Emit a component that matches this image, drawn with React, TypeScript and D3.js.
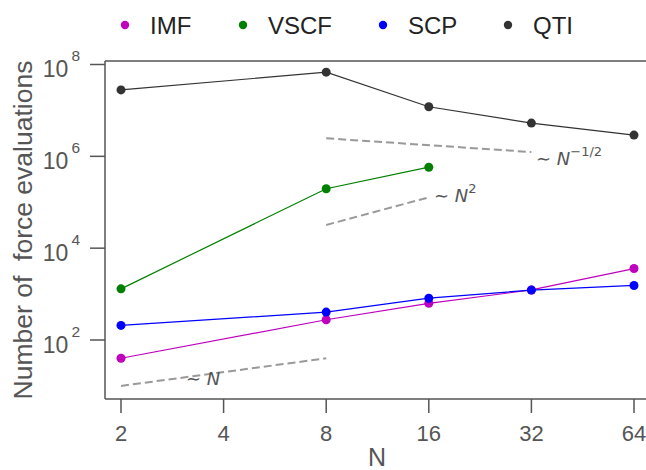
import React, { useRef, useEffect } from "react";
import * as d3 from "d3";

// x values (N) and tick labels
const xTicks = [2, 4, 8, 16, 32, 64];
const yTickExps = [2, 4, 6, 8];

// series
const imfN = [2, 8, 16, 32, 64];
const imfVals = [40, 276, 630, 1230, 3600];
const vscfN = [2, 8, 16];
const vscfVals = [1300, 197000, 580000];
const scpN = [2, 8, 16, 32, 64];
const scpVals = [208, 405, 813, 1220, 1540];
const qtiN = [2, 8, 16, 32, 64];
const qtiVals = [2.8e7, 6.8e7, 1.2e7, 5.3e6, 2.9e6];

// scaling guide lines
const guideLinN = [2, 8];
const guideLinVals = [10, 40];
const guideSqN = [8, 16];
const guideSqVals = [32000, 128000];
const guideInvN = [8, 32];
const guideInvVals = [2.47e6, 1.24e6];

const series = [
  { name: "IMF", color: "#bf00bf", xs: imfN, ys: imfVals },
  { name: "VSCF", color: "#008000", xs: vscfN, ys: vscfVals },
  { name: "SCP", color: "#0000ff", xs: scpN, ys: scpVals },
  { name: "QTI", color: "#333333", xs: qtiN, ys: qtiVals },
];

export default function App() {
  const svgRef = useRef<SVGSVGElement>(null);
  const width = 646;
  const height = 470;
  const font = "'Liberation Sans', Arial, sans-serif";
  const textColor = "#555555";

  useEffect(() => {
    const svg = d3.select(svgRef.current);
    svg.selectAll("*").remove();

    const left = 105, top = 61, bottom = 399, right = 660;

    const x = d3.scaleLog().base(2).domain([2, 64]).range([121, 634]);
    const y = d3.scaleLog().domain([1e2, 1e8]).range([340, 64.5]);

    // spines
    svg.append("line").attr("x1", left).attr("x2", left).attr("y1", top).attr("y2", bottom)
      .attr("stroke", "#555").attr("stroke-width", 1.5);
    svg.append("line").attr("x1", left).attr("x2", right).attr("y1", bottom).attr("y2", bottom)
      .attr("stroke", "#555").attr("stroke-width", 1.5);
    svg.append("line").attr("x1", left).attr("x2", right).attr("y1", top).attr("y2", top)
      .attr("stroke", "#555").attr("stroke-width", 1.5);

    // x ticks
    const gx = svg.append("g");
    xTicks.forEach((t) => {
      gx.append("line").attr("x1", x(t)).attr("x2", x(t)).attr("y1", bottom).attr("y2", bottom + 14)
        .attr("stroke", "#555").attr("stroke-width", 1.5);
      gx.append("text").attr("x", x(t)).attr("y", 441).attr("text-anchor", "middle")
        .attr("font-family", font).attr("font-size", 22).attr("fill", textColor).text(String(t));
    });

    // y ticks
    const gy = svg.append("g");
    yTickExps.forEach((e) => {
      const v = Math.pow(10, e);
      gy.append("line").attr("x1", left - 15).attr("x2", left).attr("y1", y(v)).attr("y2", y(v))
        .attr("stroke", "#555").attr("stroke-width", 1.5);
      const t = gy.append("text").attr("x", 80).attr("y", y(v) + 12.8).attr("text-anchor", "end")
        .attr("font-family", font).attr("font-size", 23).attr("fill", textColor);
      t.append("tspan").text("10");
      t.append("tspan").attr("dx", 3).attr("dy", -16).attr("font-size", 15.5).text(String(e));
    });

    // axis labels
    svg.append("text").attr("x", 377).attr("y", 466).attr("text-anchor", "middle")
      .attr("font-family", font).attr("font-size", 25).attr("fill", textColor).text("N");
    svg.append("text").attr("transform", "translate(32,230) rotate(-90)").attr("text-anchor", "middle")
      .attr("font-family", font).attr("font-size", 26.5).attr("fill", textColor)
      .attr("xml:space", "preserve").style("white-space", "pre")
      .text("Number of  force evaluations");

    // guide lines
    const line = d3.line<[number, number]>().x((d) => x(d[0])).y((d) => y(d[1]));
    const guides = [
      [guideLinN, guideLinVals],
      [guideSqN, guideSqVals],
      [guideInvN, guideInvVals],
    ];
    guides.forEach(([xs, ys]) => {
      svg.append("path").attr("d", line(xs.map((n, i) => [n, ys[i]] as [number, number])))
        .attr("fill", "none").attr("stroke", "#999").attr("stroke-width", 2)
        .attr("stroke-dasharray", "8,4");
    });

    const mathFont = "'DejaVu Sans', sans-serif";
    const lab = (px: number, py: number, sup: string | null) => {
      const t = svg.append("text").attr("x", px).attr("y", py).attr("font-family", mathFont)
        .attr("font-size", 18).attr("fill", "#555");
      t.append("tspan").text("\u223C ");
      t.append("tspan").attr("font-style", "italic").text("N");
      if (sup) t.append("tspan").attr("dy", -9).attr("font-size", 13).text(sup);
    };
    lab(186, 385, null);
    lab(434, 202, "2");
    lab(536, 165, "\u22121/2");

    // series
    series.forEach((s) => {
      const pts = s.xs.map((n, i) => [n, s.ys[i]] as [number, number]);
      svg.append("path").attr("d", line(pts)).attr("fill", "none")
        .attr("stroke", s.color).attr("stroke-width", 1.2);
      svg.append("g").selectAll("circle").data(pts).enter().append("circle")
        .attr("cx", (d) => x(d[0])).attr("cy", (d) => y(d[1])).attr("r", 4.5)
        .attr("fill", s.color);
    });

    // legend
    const legX = [125, 243, 383, 508];
    series.forEach((s, i) => {
      svg.append("circle").attr("cx", legX[i]).attr("cy", 25).attr("r", 4.2).attr("fill", s.color);
      svg.append("text").attr("x", legX[i] + 25).attr("y", 34).attr("font-family", font)
        .attr("font-size", 24).attr("fill", "#222").text(s.name);
    });
  }, []);

  return (
    <svg ref={svgRef} width={width} height={height}
      style={{ position: "absolute", left: 0, top: 0, background: "#fff" }}></svg>
  );
}
